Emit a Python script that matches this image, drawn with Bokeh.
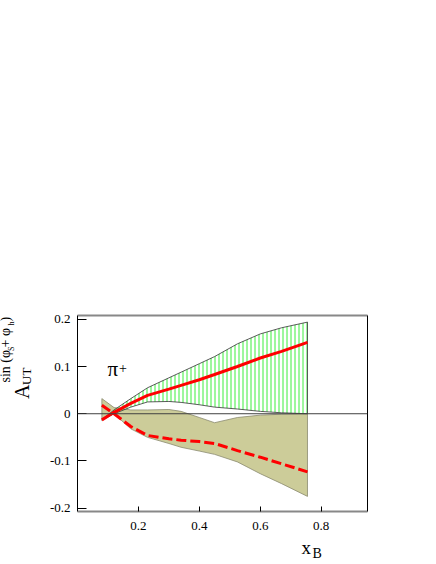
import math
from bokeh.plotting import figure
from bokeh.layouts import row, column
from bokeh.models import Range1d, LinearAxis, FixedTicker, CustomJSTickFormatter, Span
from bokeh.core.properties import value
from bokeh.embed import file_html
from bokeh.resources import INLINE

# ---- data ----
x_b = [0.08, 0.12, 0.175, 0.23, 0.30, 0.34, 0.40, 0.45, 0.525, 0.60, 0.67, 0.755]

green_upper = [-0.013, 0.008, 0.032, 0.055, 0.076, 0.088, 0.106, 0.121, 0.148, 0.169, 0.182, 0.194]
green_lower = [-0.013, 0.000, 0.014, 0.025, 0.026, 0.024, 0.019, 0.014, 0.010, 0.005, 0.002, 0.000]
red_solid = [-0.013, 0.003, 0.022, 0.039, 0.052, 0.060, 0.072, 0.083, 0.100, 0.118, 0.132, 0.151]

olive_upper = [0.032, 0.013, 0.008, 0.008, 0.009, 0.005, -0.008, -0.019, -0.008, -0.003, -0.001, 0.000]
olive_lower = [-0.014, 0.000, -0.032, -0.050, -0.063, -0.071, -0.079, -0.086, -0.102, -0.127, -0.148, -0.175]
red_dashed = [0.018, 0.000, -0.027, -0.046, -0.053, -0.056, -0.059, -0.063, -0.078, -0.092, -0.106, -0.123]

x_ticks = [0.2, 0.4, 0.6, 0.8]
y_ticks = [-0.2, -0.1, 0.0, 0.1, 0.2]

SERIF = "Liberation Serif"
TOTAL_W = 430
YLAB_W = 40
BORDER_TOP = 315
FRAME_H = 196
BORDER_BOTTOM = 30
MAIN_H = BORDER_TOP + FRAME_H + BORDER_BOTTOM
XLAB_H = 20


def blank_fig(w, h, xr, yr):
    f = figure(width=w, height=h, output_backend="svg", toolbar_location=None,
               title_location=None, x_range=xr, y_range=yr,
               min_border=0, x_axis_location=None, y_axis_location=None)
    f.outline_line_color = None
    f.xgrid.visible = False
    f.ygrid.visible = False
    f.background_fill_color = "white"
    f.border_fill_color = "white"
    return f


def txt(f, t, x, y, size, angle=0.0):
    f.text(x=[x], y=[y], text=[t], text_font=value(SERIF), text_font_size=value(size),
           text_color="black", angle=angle, text_align="left", text_baseline="middle")


# ---------------- main plot ----------------
p = figure(width=TOTAL_W - YLAB_W, height=MAIN_H, output_backend="svg", toolbar_location=None,
           title_location=None,
           x_range=Range1d(0, 0.952), y_range=Range1d(-0.207, 0.208),
           min_border_left=37, min_border_right=TOTAL_W - YLAB_W - 37 - 290,
           min_border_top=BORDER_TOP, min_border_bottom=BORDER_BOTTOM,
           x_axis_location=None, y_axis_location=None)
p.outline_line_color = None
p.xgrid.visible = False
p.ygrid.visible = False
p.background_fill_color = "white"
p.border_fill_color = "white"

fmt = CustomJSTickFormatter(code="return tick == 0 ? '0' : tick.toFixed(1);")

bottom = LinearAxis(ticker=FixedTicker(ticks=x_ticks), formatter=fmt)
left = LinearAxis(ticker=FixedTicker(ticks=y_ticks), formatter=fmt)
top = LinearAxis(ticker=FixedTicker(ticks=[]))
right = LinearAxis(ticker=FixedTicker(ticks=[]))

for ax in (bottom, left):
    ax.major_tick_out = 0
    ax.minor_tick_in = 0
    ax.minor_tick_out = 0
    ax.major_tick_line_color = "black"
    ax.major_tick_line_width = 1
    ax.major_label_text_font = SERIF
    ax.major_label_text_font_size = "13px"
    ax.major_label_text_color = "black"
bottom.major_tick_in = 5
bottom.major_label_standoff = 10
bottom.axis_line_color = "#888888"
bottom.axis_line_width = 2
left.major_tick_in = 9
left.major_label_standoff = 7
left.axis_line_color = "black"
left.axis_line_width = 1

for ax in (top, right):
    ax.major_tick_in = 0
    ax.major_tick_out = 0
    ax.minor_tick_in = 0
    ax.minor_tick_out = 0
    ax.major_label_text_font_size = "0px"
top.axis_line_color = "#888888"
top.axis_line_width = 2
right.axis_line_color = "black"
right.axis_line_width = 1

p.add_layout(bottom, "below")
p.add_layout(left, "left")
p.add_layout(top, "above")
p.add_layout(right, "right")

# olive band
p.patch(x=x_b + x_b[::-1], y=olive_upper + olive_lower[::-1],
        fill_color="#cccc99", fill_alpha=1.0, line_color="#8a8a70", line_width=0.8)

# green hatched band
p.patch(x=x_b + x_b[::-1], y=green_upper + green_lower[::-1],
        fill_color="white", fill_alpha=0.0,
        hatch_pattern="vertical_line", hatch_color="#3cee3c", hatch_scale=4,
        hatch_weight=1, hatch_alpha=1.0,
        line_color="#333333", line_width=0.8)

p.add_layout(Span(location=0, dimension="width", line_color="#404040", line_width=1))

p.line(x=x_b, y=red_solid, line_color="#ff0000", line_width=3)
p.line(x=x_b, y=red_dashed, line_color="#ff0000", line_width=3, line_dash="10 4")

# pi+ tag (inside the frame), anchored at the middle of the text
txt(p, "\u03c0", 0.0985, 0.0938, "21px")
txt(p, "+", 0.136, 0.0974, "14px")

# ---------------- y-axis title (rotated); coordinates = page pixels ----------------
yf = blank_fig(YLAB_W, MAIN_H, Range1d(0, YLAB_W),
               Range1d(BORDER_TOP + FRAME_H, BORDER_TOP))
r = math.pi / 2
txt(yf, "A", 21.7, 398.5, "20px", r)
txt(yf, "UT", 25.6, 384.5, "13px", r)
txt(yf, "sin (\u03c6", 5.2, 382, "14px", r)
txt(yf, "S", 11.3, 350.5, "8px", r)
txt(yf, " + \u03c6", 5.2, 347, "14px", r)
txt(yf, "h", 11.3, 325, "8px", r)
txt(yf, ")", 5.2, 321, "14px", r)

# ---------------- x-axis title; coordinates = page pixels ----------------
xf = blank_fig(TOTAL_W, XLAB_H, Range1d(0, TOTAL_W), Range1d(MAIN_H + XLAB_H, MAIN_H))
txt(xf, "x", 301, 546.5, "19px")
txt(xf, "B", 312, 553.2, "14px")

layout = column(row(yf, p), xf)
open("out.html", "w").write(file_html(layout, INLINE))
